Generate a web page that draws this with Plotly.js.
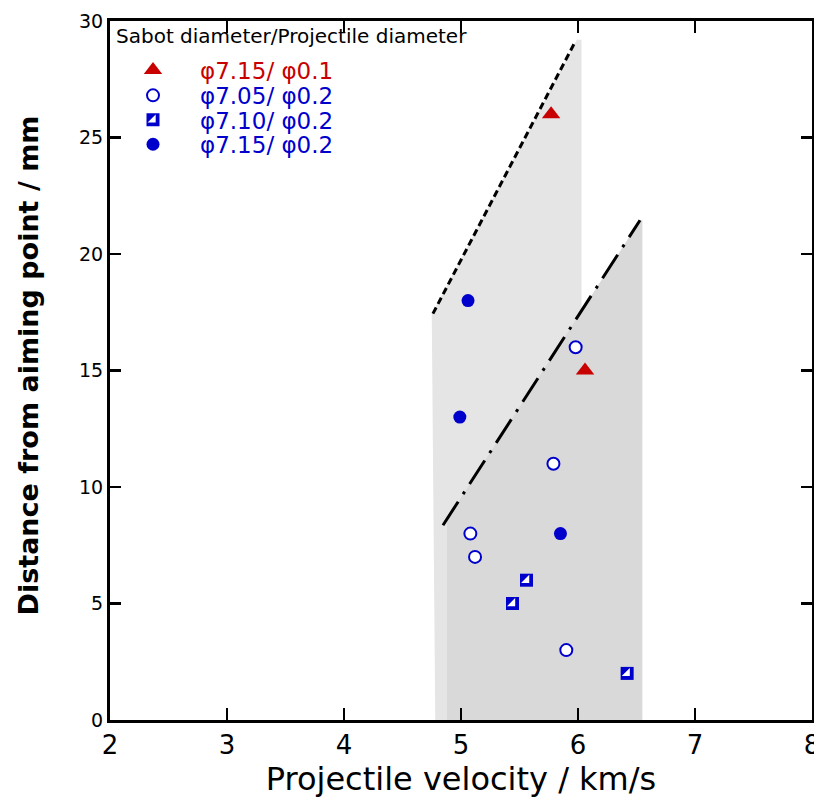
<!DOCTYPE html>
<html>
<head>
<meta charset="utf-8">
<script src="https://cdn.plot.ly/plotly-3.0.1.min.js"></script>
<style>html,body{margin:0;padding:0;background:#fff;}#chart{width:814px;height:801px;}</style>
</head>
<body>
<div id="chart"></div>
<script>
// Series names (legend)
const seriesNames = ["φ7.15/ φ0.1", "φ7.05/ φ0.2", "φ7.10/ φ0.2", "φ7.15/ φ0.2"];
const legendTitle = "Sabot diameter/Projectile diameter";
const xTitle = "Projectile velocity / km/s";
const yTitle = "Distance from aiming point / mm";

// Data: projectile velocity (km/s) vs distance from aiming point (mm)
const s1_x = [5.77, 6.06];
const s1_y = [26, 15];
const s2_x = [5.98, 5.79, 5.08, 5.12, 5.90];
const s2_y = [16, 11, 8, 7, 3];
const s3_x = [5.56, 5.44, 6.42];
const s3_y = [6, 5, 2];
const s4_x = [5.06, 4.99, 5.85];
const s4_y = [18, 13, 8];

// Shaded region boundaries
const upperBand_x = [4.75, 5.99, 6.03, 6.03, 4.78];
const upperBand_y = [17.4, 29.2, 29.2, 0, 0];
const lowerBand_x = [4.88, 6.53, 6.55, 6.55, 4.88];
const lowerBand_y = [8.6, 21.45, 21.45, 0, 0];
const upperLine_x = [4.76, 5.97];
const upperLine_y = [17.44, 29.05];
const lowerLine_x = [4.846, 6.53];
const lowerLine_y = [8.36, 21.45];

const xTicks = [2, 3, 4, 5, 6, 7, 8];
const yTicks = [0, 5, 10, 15, 20, 25, 30];

const RED = "#c80000", BLUE = "#0000cc";
const SANS = "'DejaVu Sans', Verdana, sans-serif";

// legend rows (pixel centre y) -> paper
const rowY = [69, 94.5, 119, 143.5].map(v => (720 - v) / 700);
const legX = (106 - 110) / 702;

function legendCfg(i, color) {
  return {x: legX, y: rowY[i], xanchor: "left", yanchor: "middle", bgcolor: "rgba(0,0,0,0)",
          borderwidth: 0, itemwidth: 84, font: {family: SANS, size: 23, color: color}};
}

const traces = [
  {x: upperBand_x, y: upperBand_y, type: "scatter", mode: "none", fill: "toself", fillcolor: "#e5e5e5", showlegend: false, hoverinfo: "skip"},
  {x: lowerBand_x, y: lowerBand_y, type: "scatter", mode: "none", fill: "toself", fillcolor: "#d9d9d9", showlegend: false, hoverinfo: "skip"},
  {x: upperLine_x, y: upperLine_y, type: "scatter", mode: "lines", line: {color: "#000", width: 3, dash: "7px,4px"}, showlegend: false, hoverinfo: "skip"},
  {x: lowerLine_x, y: lowerLine_y, type: "scatter", mode: "lines", line: {color: "#000", width: 3, dash: "28px,9px,3px,9px"}, showlegend: false, hoverinfo: "skip"},
  {x: s1_x, y: s1_y, type: "scatter", mode: "markers", name: seriesNames[0], legend: "legend",
   marker: {symbol: "triangle-up", size: 16, color: RED}},
  {x: s2_x, y: s2_y, type: "scatter", mode: "markers", name: seriesNames[1], legend: "legend2",
   marker: {symbol: "circle", size: 12, color: "#fff", line: {color: BLUE, width: 2}}},
  {x: s3_x, y: s3_y, type: "scatter", mode: "markers", name: seriesNames[2], legend: "legend3",
   marker: {symbol: "square", size: 13, color: BLUE, line: {color: BLUE, width: 0}}},
  {x: s4_x, y: s4_y, type: "scatter", mode: "markers", name: seriesNames[3], legend: "legend4",
   marker: {symbol: "circle", size: 13, color: BLUE}},
  {x: s3_x, y: s3_y, type: "scatter", mode: "markers", name: "", legend: "legend5", hoverinfo: "skip",
   marker: {symbol: "triangle-se", size: 9, color: "#fff", line: {width: 0}}}
];

const layout = {
  width: 814, height: 801,
  margin: {l: 110, r: 2, t: 21, b: 81},
  paper_bgcolor: "#fff", plot_bgcolor: "#fff",
  showlegend: true,
  legend: legendCfg(0, RED),
  legend2: legendCfg(1, BLUE),
  legend3: legendCfg(2, BLUE),
  legend4: legendCfg(3, BLUE),
  legend5: legendCfg(2, BLUE),
  xaxis: {
    range: [2, 8], tickvals: xTicks, ticktext: xTicks.map(String),
    showgrid: false, zeroline: false, ticklabeloverflow: "allow",
    showline: true, linecolor: "#000", linewidth: 3, mirror: "ticks",
    ticks: "inside", ticklen: 12, tickwidth: 2.5, tickcolor: "#000",
    tickfont: {family: SANS, size: 26, color: "#000"},
    title: {text: xTitle, font: {family: SANS, size: 32, color: "#000"}, standoff: 8}
  },
  yaxis: {
    range: [0, 30], tickvals: yTicks, ticktext: yTicks.map(String),
    showgrid: false, zeroline: false,
    showline: true, linecolor: "#000", linewidth: 3, mirror: "ticks",
    ticks: "inside", ticklen: 11, tickwidth: 2.5, tickcolor: "#000",
    tickfont: {family: SANS, size: 19, color: "#000"}
  },
  annotations: [
    {text: "<b>" + yTitle + "</b>", xref: "paper", yref: "paper", x: (29 - 110) / 702, y: (720 - 365) / 700,
     xanchor: "center", yanchor: "middle", textangle: -90, showarrow: false,
     font: {family: SANS, size: 27, color: "#000"}},
    {text: legendTitle, xref: "paper", yref: "paper", x: (114 - 110) / 702, y: (720 - 35) / 700,
     xanchor: "left", yanchor: "middle", showarrow: false,
     font: {family: SANS, size: 20, color: "#000"}}
  ]
};

Plotly.newPlot("chart", traces, layout, {displayModeBar: false, staticPlot: true});
</script>
</body>
</html>
